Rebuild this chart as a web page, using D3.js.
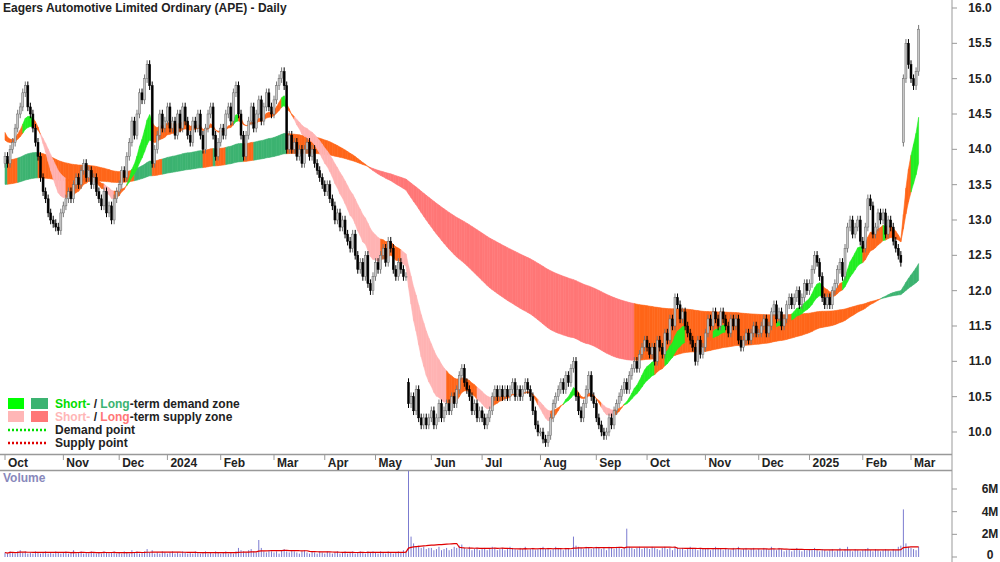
<!DOCTYPE html>
<html><head><meta charset="utf-8">
<script src="https://cdn.jsdelivr.net/npm/d3@7"></script>
<style>body{margin:0;background:#fff}svg{display:block;font-family:Arial,"Liberation Sans",sans-serif}</style>
</head><body><svg id="c" width="1000" height="562"></svg>
<script>
const closes = [
13.9,13.8,14.0,14.1,14.3,14.5,14.6,14.8,14.9,14.6,14.5,14.3,14.1,13.9,13.6,13.4,13.3,13.1,13.0,12.95,12.9,12.85,13.1,
13.2,13.3,13.4,13.3,13.5,13.6,13.5,13.7,13.8,13.6,13.7,13.5,13.6,13.4,13.3,13.2,13.4,13.1,13.2,13.0,13.3,13.4,
13.5,13.7,13.6,13.9,14.1,14.4,14.2,14.5,14.8,14.7,15.0,15.2,14.9,13.8,14.0,14.2,14.5,14.3,14.4,
14.6,14.3,14.4,14.2,14.5,14.3,14.6,14.4,14.2,14.1,14.4,14.3,14.5,14.2,14.0,14.3,14.5,14.6,14.2,13.9,14.1,
14.3,14.2,14.5,14.6,14.4,14.8,14.9,14.5,14.2,13.9,14.2,14.4,14.6,14.3,14.5,14.7,14.4,14.6,14.8,14.6,14.5,
14.7,14.9,15.0,15.1,14.9,14.0,14.2,14.0,14.1,13.9,14.0,13.8,14.0,14.1,13.9,14.0,13.8,13.7,13.6,13.5,
13.4,13.5,13.3,13.2,13.0,13.1,12.9,13.0,12.8,12.7,12.6,12.8,12.5,12.3,12.4,12.2,12.5,12.1,12.0,12.2,
12.4,12.3,12.5,12.6,12.4,12.7,12.6,12.3,12.2,12.4,12.3,12.2,12.2,10.4,10.5,10.3,10.6,10.2,10.1,10.2,10.1,10.2,
10.3,10.1,10.2,10.4,10.2,10.3,10.4,10.3,10.5,10.4,10.6,10.8,10.9,10.7,10.6,10.5,10.3,10.4,10.2,10.3,
10.2,10.1,10.2,10.3,10.5,10.6,10.5,10.6,10.5,10.6,10.5,10.6,10.7,10.5,10.6,10.5,10.6,10.7,10.6,10.5,10.3,10.1,10.0,
10.0,9.9,9.85,9.95,10.2,10.4,10.5,10.6,10.7,10.6,10.8,10.7,10.9,11.0,10.5,10.3,10.2,10.4,10.6,10.8,10.5,10.4,
10.2,10.1,10.0,9.95,10.0,10.2,10.1,10.3,10.4,10.5,10.6,10.7,10.6,10.8,10.9,11.0,10.9,11.1,11.2,11.3,
11.2,11.1,11.2,11.0,11.3,11.2,11.1,11.4,11.3,11.6,11.5,11.9,11.8,11.6,11.7,11.5,11.4,11.3,11.2,11.0,11.3,11.1,11.2,
11.4,11.6,11.5,11.7,11.6,11.5,11.7,11.6,11.5,11.4,11.6,11.5,11.6,11.3,11.2,11.3,11.4,11.3,11.4,11.5,11.4,
11.4,11.5,11.6,11.4,11.5,11.7,11.8,11.6,11.7,11.5,11.6,11.8,11.9,11.8,11.9,12.0,11.8,11.9,12.1,12.0,
12.1,12.3,12.5,12.4,12.2,11.9,11.8,11.9,11.8,12.0,12.1,12.3,12.4,12.2,12.6,12.9,13.0,12.8,12.9,13.0,12.7,
12.6,12.9,13.3,13.2,12.8,12.9,13.1,13.0,13.1,12.8,13.0,12.9,12.7,12.6,12.5,12.4,15.0,15.5,15.2,
15.0,14.9,15.1,15.7];
const openOverrides = {0:13.8, 159:10.7, 354:14.1};
const volumes = [
0.4,0.3,0.5,0.4,0.3,0.5,0.6,0.4,0.5,0.3,0.4,0.3,0.5,0.4,0.3,0.4,0.5,0.3,0.4,0.3,0.5,0.4,0.3,
0.4,0.5,0.3,0.4,0.6,0.3,0.4,0.5,0.3,0.4,0.3,0.5,0.4,0.3,0.4,0.3,0.5,0.4,0.3,0.4,0.5,0.3,
0.4,0.3,0.5,0.4,0.3,0.6,0.4,0.5,0.3,0.4,0.5,0.7,0.4,0.6,0.3,0.4,0.3,0.5,0.4,
0.3,0.4,0.5,0.3,0.4,0.3,0.5,0.4,0.3,0.4,0.3,0.5,0.4,0.3,0.4,0.5,0.3,0.4,0.3,0.5,0.4,
0.3,0.4,0.5,0.3,0.4,0.3,0.5,0.8,0.6,0.5,0.4,0.6,0.7,0.5,0.4,1.5,0.8,0.5,0.4,0.6,0.5,
0.4,0.5,0.3,0.6,0.7,0.5,0.4,0.6,0.5,0.4,0.3,0.5,0.6,0.4,0.3,0.5,0.4,0.3,0.5,0.4,
0.3,0.5,0.4,0.3,0.4,0.5,0.3,0.4,0.5,0.3,0.4,0.5,0.3,0.4,0.5,0.4,0.3,0.5,0.4,0.5,
0.4,0.3,0.5,0.4,0.3,0.5,0.4,0.3,0.4,0.5,0.4,0.6,0.5,7.6,1.8,1.2,0.9,1.0,0.8,0.9,0.7,0.8,
0.8,0.6,0.7,0.9,0.6,0.7,0.8,0.6,0.7,0.9,0.8,1.0,1.1,0.8,0.7,0.9,0.6,0.7,0.8,0.6,
0.7,0.8,0.6,0.7,0.9,0.8,0.6,0.7,0.8,0.6,0.7,0.9,0.8,0.7,0.6,0.8,0.7,0.9,0.6,0.7,0.8,0.6,0.7,
0.8,0.9,0.7,0.8,0.6,0.7,0.9,0.8,0.7,0.6,0.8,0.7,0.6,1.8,1.0,0.9,0.8,0.7,0.9,0.8,0.7,0.8,
0.9,0.8,0.7,0.8,0.6,0.9,0.8,0.7,0.9,0.8,0.7,0.8,2.5,0.9,0.8,0.7,0.8,0.9,0.7,0.8,
0.8,0.7,0.9,0.8,0.7,0.6,0.8,0.9,0.7,0.8,0.6,0.9,0.8,0.7,0.8,0.6,0.7,0.9,0.8,0.7,0.6,0.8,0.7,
0.7,0.8,0.6,0.7,0.9,0.8,0.7,0.6,0.8,0.7,0.6,0.8,0.7,0.9,0.6,0.7,0.8,0.6,0.7,0.8,0.6,
0.7,0.6,0.8,0.7,0.6,0.9,0.7,0.6,0.8,0.7,0.5,0.6,0.7,0.5,0.6,0.8,0.6,0.5,0.7,0.6,
0.6,0.7,0.8,0.6,0.5,0.7,0.6,0.5,0.6,0.7,0.5,0.6,0.8,0.5,0.7,0.9,0.6,0.5,0.7,0.6,0.5,
0.6,0.7,0.8,0.6,0.5,0.7,0.6,0.5,0.6,0.7,0.6,0.5,0.7,0.6,0.9,1.0,4.2,1.2,0.9,
0.8,0.7,0.6,0.9];
const monthTicks = [["Oct",0],["Nov",23],["Dec",45],["2024",64],["Feb",85],["Mar",106],["Apr",126],["May",146],["Jun",168],["Jul",188],["Aug",211],["Sep",233],["Oct",253],["Nov",276],["Dec",297],["2025",317],["Feb",338],["Mar",357]];
const priceTicks = [10.0,10.5,11.0,11.5,12.0,12.5,13.0,13.5,14.0,14.5,15.0,15.5,16.0];
const volTicks = [[0,"0"],[2,"2M"],[4,"4M"],[6,"6M"]];
const zoneSeeds = {shortFast:14.3, shortSlow:14.15, longFast:13.85, longSlow:13.5};

const svg = d3.select("#c");
const N = closes.length;
const x = d3.scaleLinear().domain([0,357]).range([5,911]);
const y = d3.scaleLinear().domain([10,16]).range([432,8]);
const yv = d3.scaleLinear().domain([0,6]).range([557,489]);

function ema(arr, n, seed){ const k=2/(n+1); let v=seed; return arr.map(c=>(v=v+(c-v)*k)); }
const sF=ema(closes,12,zoneSeeds.shortFast), sS=ema(closes,24,zoneSeeds.shortSlow);
const lF=ema(closes,110,zoneSeeds.longFast), lS=ema(closes,220,zoneSeeds.longSlow);

function zoneColor(i,f,s,up,down){
  const demand=f[i]>=s[i];
  for(let j=Math.max(0,i-3);j<=i;j++){
    const lo=Math.min(f[j],s[j]), hi=Math.max(f[j],s[j]);
    if(demand && closes[j]<=hi+0.02) return "#ff6619";
    if(!demand && closes[j]>=lo-0.02) return "#ff6619";
  }
  return demand?up:down;
}
function drawZone(f,s,up,down){
  const g=svg.append("g");
  for(let i=0;i<N-1;i++){
    const col=zoneColor(i,f,s,up,down);
    const pts=[[x(i),y(f[i])],[x(i+1),y(f[i+1])],[x(i+1),y(s[i+1])],[x(i),y(s[i])]];
    g.append("path").attr("d","M"+pts.join("L")+"Z").attr("fill",col).attr("stroke",col).attr("stroke-width",0.6);
  }
}
drawZone(lF,lS,"#3cb371","#ff7777");
drawZone(sF,sS,"#22ee22","#ffb3b3");

// candles
const cg=svg.append("g");
closes.forEach((c,i)=>{
  const o = openOverrides[i]!==undefined?openOverrides[i]:closes[i-1];
  const up=c>=o;
  const top=y(Math.max(o,c)), bot=y(Math.min(o,c));
  const hi=Math.max(o,c)+0.06, lo=Math.min(o,c)-0.06;
  cg.append("line").attr("x1",x(i)).attr("x2",x(i)).attr("y1",y(hi)).attr("y2",y(lo)).attr("stroke",up?"#777":"#000").attr("stroke-width",1);
  cg.append("rect").attr("x",x(i)-1).attr("width",2).attr("y",top).attr("height",Math.max(1,bot-top))
    .attr("fill",up?"#c8c8c8":"#000").attr("stroke",up?"#666":"#000").attr("stroke-width",0.5);
});

// frame lines
svg.append("line").attr("x1",952).attr("x2",952).attr("y1",0).attr("y2",562).attr("stroke","#999");
svg.append("line").attr("x1",0).attr("x2",952).attr("y1",454.5).attr("y2",454.5).attr("stroke","#999").attr("stroke-width",1.5);
svg.append("line").attr("x1",0).attr("x2",952).attr("y1",470.5).attr("y2",470.5).attr("stroke","#999").attr("stroke-width",1.5);

// price axis
priceTicks.forEach(p=>{
  svg.append("line").attr("x1",952).attr("x2",957).attr("y1",y(p)).attr("y2",y(p)).attr("stroke","#999");
  svg.append("text").attr("x",980).attr("y",y(p)+4).attr("text-anchor","middle").attr("font-size",12).attr("font-weight","bold").attr("fill","#222").text(p.toFixed(1));
});
volTicks.forEach(([v,l])=>{
  svg.append("line").attr("x1",952).attr("x2",957).attr("y1",yv(v)).attr("y2",yv(v)).attr("stroke","#999");
  svg.append("text").attr("x",990).attr("y",Math.min(yv(v)+4,559)).attr("text-anchor","middle").attr("font-size",12).attr("font-weight","bold").attr("fill","#222").text(l);
});
// month axis
monthTicks.forEach(([l,i])=>{
  svg.append("line").attr("x1",x(i)).attr("x2",x(i)).attr("y1",455).attr("y2",460).attr("stroke","#999");
  svg.append("text").attr("x",x(i)+3).attr("y",467).attr("font-size",12).attr("font-weight","bold").attr("fill","#222").text(l);
});

// volume
const vg=svg.append("g");
volumes.forEach((v,i)=>{
  vg.append("line").attr("x1",x(i)).attr("x2",x(i)).attr("y1",yv(0)).attr("y2",yv(v)).attr("stroke","#7b7bd0").attr("stroke-width",1);
});
const vavg=volumes.map((v,i)=>{const s=volumes.slice(Math.max(0,i-19),i+1);return d3.mean(s);});
svg.append("path").attr("d",d3.line().x((d,i)=>x(i)).y(d=>yv(d))(vavg)).attr("fill","none").attr("stroke","#e00000").attr("stroke-width",1.2);

// titles
svg.append("text").attr("x",3).attr("y",12).attr("font-size",12).attr("font-weight","bold").attr("fill","#222").text("Eagers Automotive Limited Ordinary (APE) - Daily");
svg.append("text").attr("x",3).attr("y",482).attr("font-size",12).attr("font-weight","bold").attr("fill","#8888bb").text("Volume");

// legend
const lg=svg.append("g").attr("font-size",12).attr("font-weight","bold");
lg.append("rect").attr("x",8).attr("y",398).attr("width",16).attr("height",11).attr("fill","#00ff00");
lg.append("rect").attr("x",31).attr("y",398).attr("width",17).attr("height",11).attr("fill","#3cb371");
lg.append("rect").attr("x",8).attr("y",411).attr("width",16).attr("height",11).attr("fill","#ffb6b6");
lg.append("rect").attr("x",31).attr("y",411).attr("width",17).attr("height",11).attr("fill","#ff7777");
let t=lg.append("text").attr("x",55).attr("y",408);
t.append("tspan").attr("fill","#00dd00").text("Short-");t.append("tspan").attr("fill","#222").text(" / ");
t.append("tspan").attr("fill","#3cb371").text("Long");t.append("tspan").attr("fill","#222").text("-term demand zone");
t=lg.append("text").attr("x",55).attr("y",421);
t.append("tspan").attr("fill","#ffb6b6").text("Short-");t.append("tspan").attr("fill","#222").text(" / ");
t.append("tspan").attr("fill","#ff7777").text("Long");t.append("tspan").attr("fill","#222").text("-term supply zone");
lg.append("line").attr("x1",8).attr("x2",48).attr("y1",430).attr("y2",430).attr("stroke","#00dd00").attr("stroke-width",2.5).attr("stroke-dasharray","2,2");
lg.append("line").attr("x1",8).attr("x2",48).attr("y1",443).attr("y2",443).attr("stroke","#e00000").attr("stroke-width",2.5).attr("stroke-dasharray","2,2");
lg.append("text").attr("x",55).attr("y",434).attr("fill","#222").text("Demand point");
lg.append("text").attr("x",55).attr("y",447).attr("fill","#222").text("Supply point");
</script></body></html>
